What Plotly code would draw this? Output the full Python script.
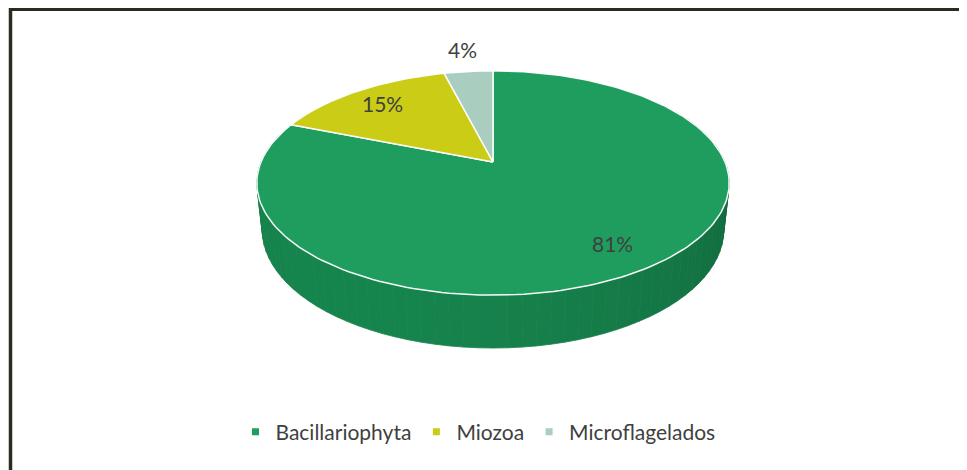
import numpy as np
import plotly.graph_objects as go

# ---------------- data ----------------
categories = ["Bacillariophyta", "Miozoa", "Microflagelados"]
values = [81, 15, 4]

# ---------------- styles ----------------
top_colors = ["#1F9D5E", "#CACC16", "#A9CEBF"]
side_colors = ["#17854E", "#A6A80E", "#8CB2A2"]
text_color = "#404040"
FONT = "Lato, 'Open Sans', sans-serif"

# the page body has an 8px margin, so the figure is drawn 8px in from the window edge
OFF = 8.0
W, Hpx = 959, 462

# perspective projection of a disc (radius 1, thickness DEPTH)
CX, CY = 493.0 - OFF, 162.0 - OFF
SCALE = 232.0
PHI = np.radians(27.8)
DIST = 4.72
DEPTH = 0.23


def project(X, Y, Z):
    X = np.asarray(X, dtype=float)
    Y = np.asarray(Y, dtype=float)
    Z = np.asarray(Z, dtype=float)
    v = Y * np.sin(PHI) + Z * np.cos(PHI)
    w = Y * np.cos(PHI) - Z * np.sin(PHI)
    f = 1.0 / (1.0 + w / DIST)
    return CX + SCALE * X * f, CY - SCALE * v * f


def hex_to_rgb(h):
    h = h.lstrip("#")
    return [int(h[i:i + 2], 16) for i in (0, 2, 4)]


def shade(h, factor):
    r, g, b = hex_to_rgb(h)
    return "rgb(%d,%d,%d)" % tuple(max(0, min(255, int(c * factor))) for c in (r, g, b))


total = float(sum(values))
fracs = [v / total for v in values]
bounds = np.concatenate([[0.0], np.cumsum(fracs)]) * 360.0  # degrees, clockwise from 12 o'clock


def slice_of(deg):
    deg = deg % 360.0
    for i in range(len(values)):
        if bounds[i] <= deg < bounds[i + 1]:
            return i
    return len(values) - 1


fig = go.Figure()

# ---- side wall (strips, drawn back to front) ----
step = 3.0
strips = []
t = 60.0
while t < 300.0:
    t0, t1 = t, t + step
    strips.append((t0, t1, 0.5 * (t0 + t1)))
    t += step
strips.sort(key=lambda s: -np.cos(np.radians(s[2])))

for t0, t1, mid in strips:
    idx = slice_of(mid)
    tt = np.radians(np.linspace(t0, t1, 4))
    xt, yt = project(np.sin(tt), np.cos(tt), np.zeros_like(tt))
    xb, yb = project(np.sin(tt[::-1]), np.cos(tt[::-1]), -DEPTH * np.ones_like(tt))
    factor = 0.86 + 0.14 * np.cos(np.radians(mid - 215.0))
    col = shade(side_colors[idx], factor)
    fig.add_trace(go.Scatter(
        x=list(xt) + list(xb) + [xt[0]],
        y=list(yt) + list(yb) + [yt[0]],
        mode="lines", fill="toself", fillcolor=col,
        line=dict(color=col, width=0.8),
        hoverinfo="skip", showlegend=False,
    ))

# ---- top faces ----
for i, cat in enumerate(categories):
    a0, a1 = bounds[i], bounds[i + 1]
    n = max(4, int((a1 - a0) / 1.5))
    tt = np.radians(np.linspace(a0, a1, n))
    xs, ys = project(np.sin(tt), np.cos(tt), np.zeros_like(tt))
    cx0, cy0 = project(0.0, 0.0, 0.0)
    fig.add_trace(go.Scatter(
        x=[float(cx0)] + list(xs) + [float(cx0)],
        y=[float(cy0)] + list(ys) + [float(cy0)],
        mode="lines", fill="toself", fillcolor=top_colors[i],
        line=dict(color="rgba(255,255,255,0.95)", width=1.5),
        name=cat, hoverinfo="name", showlegend=False,
    ))

# ---- data labels ----
annotations = []
for i, cat in enumerate(categories):
    mid = np.radians(0.5 * (bounds[i] + bounds[i + 1]))
    r = 0.8 if fracs[i] >= 0.1 else 1.3
    lx, ly = project(r * np.sin(mid), r * np.cos(mid), 0.0)
    annotations.append(dict(
        x=float(lx), y=float(ly), xref="x", yref="y",
        text="%d%%" % round(fracs[i] * 100), showarrow=False,
        font=dict(family=FONT, size=21, color=text_color),
    ))

# ---- legend entries ----
for i, cat in enumerate(categories):
    fig.add_trace(go.Scatter(
        x=[None], y=[None], mode="markers", name=cat,
        marker=dict(symbol="square", size=7, color=top_colors[i]),
        showlegend=True,
    ))

# ---- frame (top and left edges) ----
top_y = 9.5 - OFF
left_x = 10.5 - OFF
shapes = [
    dict(type="line", xref="paper", yref="paper",
         x0=(9 - OFF) / W, x1=1.0, y0=1 - top_y / Hpx, y1=1 - top_y / Hpx,
         line=dict(color="#2A2C22", width=3)),
    dict(type="line", xref="paper", yref="paper",
         x0=left_x / W, x1=left_x / W, y0=0.0, y1=1 - (8 - OFF) / Hpx,
         line=dict(color="#2A2C22", width=3.5)),
]

fig.update_layout(
    width=W, height=Hpx,
    margin=dict(l=0, r=0, t=0, b=0),
    paper_bgcolor="white", plot_bgcolor="white",
    xaxis=dict(range=[0, W], visible=False, fixedrange=True),
    yaxis=dict(range=[Hpx, 0], visible=False, fixedrange=True),
    showlegend=True,
    legend=dict(
        orientation="h", x=(478 - OFF) / W, xanchor="center",
        y=1 - (432 - OFF) / Hpx, yanchor="middle",
        font=dict(family=FONT, size=21, color=text_color),
        bgcolor="rgba(0,0,0,0)", itemclick=False, itemdoubleclick=False,
    ),
    annotations=annotations,
    shapes=shapes,
    font=dict(family=FONT),
)

fig.write_html("out.html")
